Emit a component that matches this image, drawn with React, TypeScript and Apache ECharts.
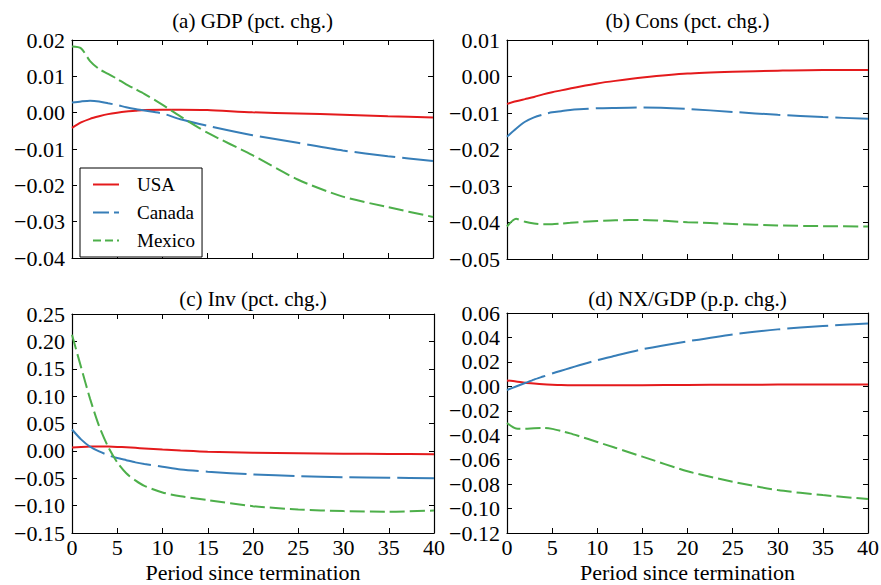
import React, { useEffect, useRef } from 'react';
import * as echarts from 'echarts';

// ---- data ----
const periods = [0, 1, 2, 3, 4, 5, 6, 7, 8, 10, 12, 15, 20, 25, 30, 35, 40];
const countries = ['USA', 'Canada', 'Mexico'];

const gdpUSA = [-0.0042, -0.0027, -0.0017, -0.001, -0.0004, 0.0, 0.0003, 0.0005, 0.0007, 0.0008, 0.0008, 0.0007, 0.0001, -0.0002, -0.0006, -0.001, -0.0013];
const gdpCanada = [0.0028, 0.0031, 0.0033, 0.0031, 0.0026, 0.0021, 0.0015, 0.001, 0.0006, -0.0002, -0.0018, -0.0036, -0.0062, -0.0083, -0.0104, -0.012, -0.0133];
const gdpMexico = [0.0182, 0.0177, 0.0142, 0.012, 0.0107, 0.0093, 0.0078, 0.0065, 0.0052, 0.0022, -0.001, -0.0055, -0.0117, -0.0184, -0.0231, -0.026, -0.0287];

const consUSA = [-0.0075, -0.0068, -0.0062, -0.0056, -0.0049, -0.0043, -0.0038, -0.0033, -0.0028, -0.0019, -0.0012, -0.0003, 0.0008, 0.0013, 0.0016, 0.0018, 0.0018];
const consCanada = [-0.0165, -0.0143, -0.0124, -0.0112, -0.0104, -0.0098, -0.0095, -0.0092, -0.009, -0.0087, -0.0086, -0.0085, -0.0089, -0.0097, -0.0105, -0.0111, -0.0116];
const consMexico = [-0.0411, -0.039, -0.0398, -0.0403, -0.0405, -0.0405, -0.0403, -0.0401, -0.0399, -0.0396, -0.0394, -0.0393, -0.0399, -0.0404, -0.0408, -0.041, -0.0411];

const invUSA = [0.006, 0.007, 0.0078, 0.008, 0.0078, 0.0072, 0.0065, 0.0055, 0.0045, 0.0025, 0.0008, -0.0015, -0.0035, -0.0045, -0.0052, -0.0057, -0.006];
const invCanada = [0.039, 0.021, 0.0075, -0.001, -0.008, -0.013, -0.017, -0.021, -0.024, -0.029, -0.034, -0.038, -0.043, -0.046, -0.048, -0.049, -0.05];
const invMexico = [0.212, 0.153, 0.095, 0.045, 0.007, -0.021, -0.041, -0.054, -0.064, -0.076, -0.083, -0.09, -0.101, -0.107, -0.11, -0.111, -0.109];

const nxUSA = [0.0048, 0.004, 0.003, 0.0023, 0.0017, 0.0013, 0.001, 0.0009, 0.0008, 0.0008, 0.0008, 0.0009, 0.0011, 0.0013, 0.0014, 0.0015, 0.0016];
const nxCanada = [-0.003, -0.0001, 0.0027, 0.0055, 0.008, 0.0105, 0.0128, 0.015, 0.0172, 0.0214, 0.025, 0.0303, 0.0368, 0.0425, 0.0466, 0.0493, 0.0515];
const nxMexico = [-0.03, -0.0345, -0.0347, -0.0342, -0.034, -0.0348, -0.0365, -0.0385, -0.0408, -0.0455, -0.0503, -0.0575, -0.0695, -0.078, -0.0849, -0.089, -0.0922];

const panelTitles = ['(a) GDP (pct. chg.)', '(b) Cons (pct. chg.)', '(c) Inv (pct. chg.)', '(d) NX/GDP (p.p. chg.)'];
const yMins = [-0.04, -0.05, -0.15, -0.12];
const yMaxs = [0.02, 0.01, 0.25, 0.06];
const ySteps = [0.01, 0.01, 0.05, 0.02];
const xMin = 0;
const xMax = 40;
const xStep = 5;
const xAxisTitle = 'Period since termination';

const panelSeries = [
  [gdpUSA, gdpCanada, gdpMexico],
  [consUSA, consCanada, consMexico],
  [invUSA, invCanada, invMexico],
  [nxUSA, nxCanada, nxMexico],
];

// ---- styles / layout ----
const FONT = "'Liberation Serif', 'Times New Roman', Times, serif";
const colors = ['#e41a1c', '#377eb8', '#4daf4a'];
const dashes: any[] = ['solid', [41, 7], [15, 5]];
const legendDashes: any[] = ['solid', [16, 5], [8, 4]];
const grids = [
  { left: 72, top: 40, width: 361, height: 218 },
  { left: 507, top: 40, width: 361, height: 219 },
  { left: 72, top: 314, width: 362, height: 219 },
  { left: 507, top: 313, width: 361, height: 220 },
];
const titleTops = [10, 10, 288, 288];

const fmt = (v: number) => {
  let r = Math.round(v * 100) / 100;
  if (Math.abs(r) < 1e-9) r = 0;
  const s = r.toFixed(2);
  return s.startsWith('-') ? '\u2212' + s.slice(1) : s;
};

function buildOption() {
  const axisLine = { show: true, onZero: false, lineStyle: { color: '#000', width: 1.2 } };
  const axisTick = { show: true, inside: true, length: 5, lineStyle: { color: '#000', width: 1 } };
  const xAxis: any[] = [];
  const yAxis: any[] = [];
  const series: any[] = [];
  grids.forEach((g, i) => {
    const showX = i >= 2;
    xAxis.push({
      gridIndex: i, type: 'value', min: xMin, max: xMax, interval: xStep, position: 'bottom',
      axisLine, axisTick, splitLine: { show: false },
      axisLabel: { show: showX, margin: 3, fontSize: 22, fontFamily: FONT, color: '#000', hideOverlap: false },
      name: showX ? xAxisTitle : '', nameLocation: 'middle', nameGap: 28,
      nameTextStyle: { fontSize: 22, fontFamily: FONT, color: '#000' },
    });
    xAxis.push({
      gridIndex: i, type: 'value', min: xMin, max: xMax, interval: xStep, position: 'top',
      axisLine, axisTick, splitLine: { show: false }, axisLabel: { show: false },
    });
    yAxis.push({
      gridIndex: i, type: 'value', min: yMins[i], max: yMaxs[i], interval: ySteps[i], position: 'left',
      axisLine, axisTick, splitLine: { show: false },
      axisLabel: { margin: 7, fontSize: 22, fontFamily: FONT, color: '#000', formatter: fmt, hideOverlap: false },
    });
    yAxis.push({
      gridIndex: i, type: 'value', min: yMins[i], max: yMaxs[i], interval: ySteps[i], position: 'right',
      axisLine, axisTick, splitLine: { show: false }, axisLabel: { show: false },
    });
    panelSeries[i].forEach((vals, k) => {
      series.push({
        type: 'line', name: countries[k], xAxisIndex: 2 * i, yAxisIndex: 2 * i,
        data: periods.map((p, j) => [p, vals[j]]),
        symbol: 'none', showSymbol: false, smooth: 0.25,
        lineStyle: { color: colors[k], width: 2, type: dashes[k] },
        itemStyle: { color: colors[k] },
        emphasis: { disabled: true },
        z: 2 + k,
      });
    });
  });
  return {
    animation: false,
    backgroundColor: '#fff',
    title: panelTitles.map((t, i) => ({
      text: t, left: grids[i].left + grids[i].width / 2, top: titleTops[i], textAlign: 'center', padding: 0,
      textStyle: { fontSize: 21, fontWeight: 'normal', fontFamily: FONT, color: '#000' },
    })),
    grid: grids.map((g) => ({ ...g, containLabel: false, outerBoundsMode: 'none' })),
    legend: {
      orient: 'vertical', left: 80, top: 168,
      itemWidth: 26, itemHeight: 16, itemGap: 9, padding: [7, 7, 7, 12],
      borderColor: '#000', borderWidth: 1, borderRadius: 0, backgroundColor: '#fff',
      textStyle: { fontSize: 19, fontFamily: FONT, color: '#000', lineHeight: 16, padding: [0, 0, 0, 13] },
      itemStyle: { opacity: 0 },
      selectedMode: false,
      data: countries.map((c, k) => ({ name: c, lineStyle: { type: legendDashes[k], width: 2 } })),
      z: 10,
    },
    xAxis, yAxis, series,
  };
}

export default function App() {
  const ref = useRef<HTMLDivElement>(null);
  useEffect(() => {
    document.body.style.margin = '0';
    const chart = echarts.init(ref.current!, undefined, { renderer: 'svg' });
    chart.setOption(buildOption() as any);
    return () => chart.dispose();
  }, []);
  return <div ref={ref} style={{ width: 881, height: 585 }} />;
}
